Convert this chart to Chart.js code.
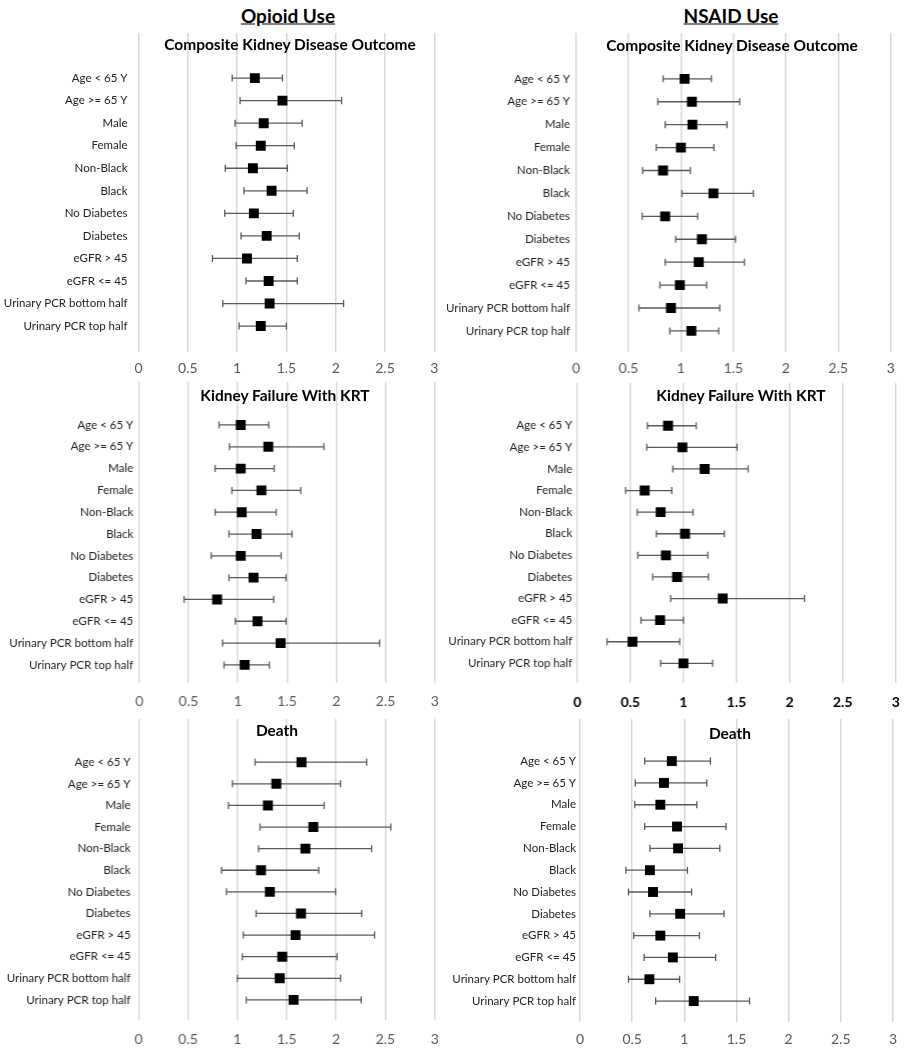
<!DOCTYPE html>
<html>
<head>
<meta charset="utf-8">
<script src="https://cdn.jsdelivr.net/npm/chart.js@4.4.1/dist/chart.umd.min.js"></script>
<style>
  body { margin: 0; background: #fff; width: 906px; height: 1050px; position: relative; overflow: hidden; font-family: Lato, "Open Sans", sans-serif; }
  .box { position: absolute; }
  .head { position: absolute; transform: translate(-50%, -50%); font-weight: bold; font-size: 19px; text-decoration: underline; color: #000; white-space: nowrap; }
  .sub { position: absolute; transform: translate(-50%, -50%); font-weight: bold; font-size: 15.5px; color: #000; white-space: nowrap; }
</style>
</head>
<body>
<div class="head" style="left:288px; top:15px;">Opioid Use</div>
<div class="head" style="left:731px; top:15px;">NSAID Use</div>

<div class="box" id="b1"><canvas id="c1"></canvas></div>
<div class="box" id="b2"><canvas id="c2"></canvas></div>
<div class="box" id="b3"><canvas id="c3"></canvas></div>
<div class="box" id="b4"><canvas id="c4"></canvas></div>
<div class="box" id="b5"><canvas id="c5"></canvas></div>
<div class="box" id="b6"><canvas id="c6"></canvas></div>

<div class="sub" style="left:290px; top:44px;">Composite Kidney Disease Outcome</div>
<div class="sub" style="left:732px; top:45px;">Composite Kidney Disease Outcome</div>
<div class="sub" style="left:285px; top:395px;">Kidney Failure With KRT</div>
<div class="sub" style="left:741px; top:395px;">Kidney Failure With KRT</div>
<div class="sub" style="left:277px; top:730px;">Death</div>
<div class="sub" style="left:730px; top:733px;">Death</div>

<script>
const subgroups = ["Age < 65 Y", "Age >= 65 Y", "Male", "Female", "Non-Black", "Black",
  "No Diabetes", "Diabetes", "eGFR > 45", "eGFR <= 45", "Urinary PCR bottom half", "Urinary PCR top half"];
const xTicks = [0, 0.5, 1, 1.5, 2, 2.5, 3];

// opioid use
const opioidCompositeHR = [1.18, 1.46, 1.27, 1.24, 1.16, 1.35, 1.17, 1.30, 1.10, 1.32, 1.33, 1.24];
const opioidCompositeLo = [0.95, 1.03, 0.98, 0.99, 0.88, 1.07, 0.875, 1.04, 0.75, 1.09, 0.855, 1.02];
const opioidCompositeHi = [1.46, 2.06, 1.66, 1.58, 1.51, 1.71, 1.57, 1.63, 1.61, 1.61, 2.08, 1.50];

const opioidKrtHR = [1.03, 1.31, 1.03, 1.24, 1.04, 1.19, 1.03, 1.16, 0.79, 1.20, 1.435, 1.07];
const opioidKrtLo = [0.81, 0.915, 0.77, 0.94, 0.77, 0.91, 0.73, 0.91, 0.455, 0.975, 0.845, 0.86];
const opioidKrtHi = [1.315, 1.875, 1.37, 1.64, 1.39, 1.55, 1.44, 1.49, 1.365, 1.49, 2.44, 1.32];

const opioidDeathHR = [1.65, 1.395, 1.31, 1.77, 1.69, 1.24, 1.33, 1.645, 1.59, 1.455, 1.43, 1.57];
const opioidDeathLo = [1.18, 0.95, 0.91, 1.23, 1.215, 0.84, 0.89, 1.19, 1.06, 1.05, 1.00, 1.09];
const opioidDeathHi = [2.31, 2.045, 1.88, 2.555, 2.36, 1.825, 1.995, 2.26, 2.39, 2.01, 2.045, 2.255];

// NSAID use
const nsaidCompositeHR = [1.035, 1.105, 1.11, 1.00, 0.83, 1.31, 0.85, 1.20, 1.17, 0.99, 0.905, 1.10];
const nsaidCompositeLo = [0.83, 0.78, 0.85, 0.765, 0.635, 1.01, 0.63, 0.95, 0.85, 0.80, 0.60, 0.895];
const nsaidCompositeHi = [1.29, 1.56, 1.44, 1.315, 1.09, 1.69, 1.16, 1.52, 1.605, 1.245, 1.37, 1.36];

const nsaidKrtHR = [0.855, 0.99, 1.20, 0.635, 0.785, 1.015, 0.835, 0.94, 1.37, 0.78, 0.52, 1.00];
const nsaidKrtLo = [0.66, 0.655, 0.90, 0.455, 0.565, 0.745, 0.57, 0.71, 0.88, 0.60, 0.28, 0.785];
const nsaidKrtHi = [1.12, 1.505, 1.61, 0.89, 1.09, 1.385, 1.23, 1.235, 2.14, 1.00, 0.965, 1.275];

const nsaidDeathHR = [0.88, 0.805, 0.77, 0.93, 0.94, 0.67, 0.70, 0.96, 0.77, 0.89, 0.665, 1.09];
const nsaidDeathLo = [0.62, 0.53, 0.525, 0.62, 0.67, 0.44, 0.465, 0.67, 0.515, 0.615, 0.465, 0.725];
const nsaidDeathHi = [1.25, 1.215, 1.12, 1.40, 1.34, 1.03, 1.07, 1.38, 1.145, 1.30, 0.955, 1.625];

// whiskers drawn under the squares
const errorBars = {
  id: "errorBars",
  beforeDatasetsDraw(chart) {
    const { ctx, scales: { x, y } } = chart;
    const ds = chart.data.datasets[0];
    ctx.save();
    ctx.strokeStyle = "#595959";
    ctx.lineWidth = 1.3;
    ds.lo.forEach((lo, i) => {
      const py = y.getPixelForValue(i);
      const x1 = x.getPixelForValue(lo);
      const x2 = x.getPixelForValue(ds.hi[i]);
      ctx.beginPath();
      ctx.moveTo(x1, py); ctx.lineTo(x2, py);
      ctx.moveTo(x1, py - 3.5); ctx.lineTo(x1, py + 3.5);
      ctx.moveTo(x2, py - 3.5); ctx.lineTo(x2, py + 3.5);
      ctx.stroke();
    });
    ctx.restore();
  }
};

function forest(id, hr, lo, hi, g) {
  const box = document.getElementById("b" + id);
  const top = g.top - 10;
  box.style.left = g.canvasLeft + "px";
  box.style.top = top + "px";
  box.style.width = (g.right + 10 - g.canvasLeft) + "px";
  box.style.height = (g.bottom + 30 - top) + "px";

  new Chart(document.getElementById("c" + id), {
    type: "scatter",
    data: {
      datasets: [{
        data: hr.map((v, i) => ({ x: v, y: i })),
        lo: lo,
        hi: hi,
        pointStyle: "rect",
        pointRadius: 7,
        pointHoverRadius: 7,
        backgroundColor: "#000",
        borderColor: "#000",
        borderWidth: 0
      }]
    },
    options: {
      responsive: true,
      maintainAspectRatio: false,
      animation: false,
      layout: { padding: { top: 10, right: 10, left: 0, bottom: 0 } },
      plugins: { legend: { display: false }, tooltip: { enabled: false } },
      scales: {
        x: {
          type: "linear",
          min: 0,
          max: 3,
          afterBuildTicks: s => { s.ticks = xTicks.map(v => ({ value: v })); },
          afterFit: s => { s.height = 30; s.paddingLeft = 0; s.paddingRight = 0; },
          border: { display: false },
          grid: { color: "#d9d9d9", lineWidth: 1.5, drawTicks: false, tickLength: 0 },
          ticks: {
            padding: g.xPad,
            color: g.boldTicks ? "#000" : "#595959",
            font: { family: "Lato", size: 14, weight: g.boldTicks ? "bold" : "normal" },
            maxRotation: 0,
            callback: v => String(v)
          }
        },
        y: {
          type: "linear",
          reverse: true,
          min: g.ymin,
          max: g.ymax,
          afterBuildTicks: s => { s.ticks = subgroups.map((c, i) => ({ value: i })); },
          afterFit: s => { s.width = g.left - g.canvasLeft; s.paddingTop = 0; s.paddingBottom = 0; },
          border: { display: false },
          grid: { display: false, drawTicks: false, tickLength: 0 },
          ticks: {
            padding: g.yPad,
            color: "#222",
            font: { family: "Lato", size: 11.5 },
            callback: v => subgroups[v]
          }
        }
      }
    },
    plugins: [errorBars]
  });
}

forest(1, opioidCompositeHR, opioidCompositeLo, opioidCompositeHi,
  { canvasLeft: 0, left: 138.5, right: 434.3, top: 33, bottom: 352, ymin: -2, ymax: 12.15, xPad: 8, yPad: 11 });
forest(2, nsaidCompositeHR, nsaidCompositeLo, nsaidCompositeHi,
  { canvasLeft: 440, left: 575.7, right: 889.7, top: 33, bottom: 352, ymin: -2, ymax: 11.92, xPad: 8, yPad: 6 });
forest(3, opioidKrtHR, opioidKrtLo, opioidKrtHi,
  { canvasLeft: 0, left: 139, right: 433.7, top: 382, bottom: 683, ymin: -1.97, ymax: 11.83, xPad: 10.5, yPad: 6 });
forest(4, nsaidKrtHR, nsaidKrtLo, nsaidKrtHi,
  { canvasLeft: 440, left: 577, right: 894.7, top: 383, bottom: 683, ymin: -1.98, ymax: 11.91, xPad: 11, yPad: 5, boldTicks: true });
forest(5, opioidDeathHR, opioidDeathLo, opioidDeathHi,
  { canvasLeft: 0, left: 138.3, right: 433.7, top: 719, bottom: 1020, ymin: -2, ymax: 11.93, xPad: 11, yPad: 8 });
forest(6, nsaidDeathHR, nsaidDeathLo, nsaidDeathHi,
  { canvasLeft: 440, left: 580, right: 893, top: 719, bottom: 1022, ymin: -1.93, ymax: 11.96, xPad: 9.5, yPad: 4 });
</script>
</body>
</html>
